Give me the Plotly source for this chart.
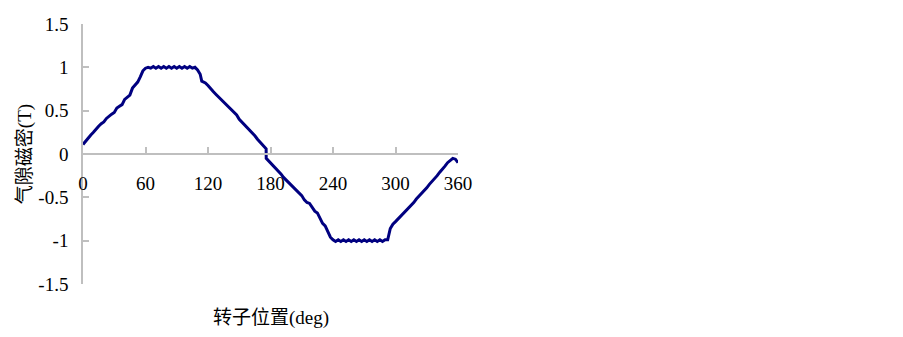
import plotly.graph_objects as go

angle_deg = [
    0, 2.5, 5, 7.5, 10, 12.5, 15, 17.5, 20, 22.5, 25, 27.5, 30, 32.5, 35, 37.5, 40, 42.5, 45, 47.5,
    50, 52.5, 55, 57.5, 60, 62.5, 65, 67.5, 70, 72.5, 75, 77.5, 80, 82.5, 85, 87.5, 90, 92.5, 95, 97.5,
    100, 102.5, 105, 107.5, 110, 112.5, 114, 117.5, 120, 122.5, 125, 127.5, 130, 132.5, 135, 137.5,
    140, 142.5, 145, 147.5, 150, 152.5, 155, 157.5, 160, 162.5, 165, 167.5, 170, 172.5, 175, 175.8,
    175.9, 177.5, 180, 182.5, 185, 187.5, 190, 192.5, 195, 197.5, 200, 202.5, 205, 207.5, 210, 212.5,
    215, 217.5, 220, 222.5, 225, 227.5, 230, 232.5, 235, 237.5, 240, 242.5, 245, 247.5, 250, 252.5,
    255, 257.5, 260, 262.5, 265, 267.5, 270, 272.5, 275, 277.5, 280, 282.5, 285, 287.5, 290, 292.5,
    295, 296.5, 297.5, 300, 302.5, 305, 307.5, 310, 312.5, 315, 317.5, 320, 322.5, 325, 327.5, 330,
    332.5, 335, 337.5, 340, 342.5, 345, 347.5, 350, 352.5, 355, 357.5, 360,
]
flux_density_T = [
    0.11, 0.15, 0.19, 0.22, 0.25, 0.29, 0.32, 0.35, 0.37, 0.41, 0.44, 0.46, 0.48, 0.53, 0.55, 0.57, 0.63, 0.66, 0.68, 0.76,
    0.79, 0.83, 0.89, 0.96, 0.99, 1.00, 0.99, 1.01, 0.99, 1.01, 0.99, 1.01, 0.99, 1.01, 0.99, 1.01, 0.99, 1.01, 0.99, 1.01,
    0.99, 1.01, 0.99, 1.00, 0.97, 0.92, 0.84, 0.82, 0.79, 0.75, 0.72, 0.69, 0.66, 0.63, 0.60, 0.57,
    0.53, 0.50, 0.47, 0.45, 0.40, 0.37, 0.34, 0.31, 0.27, 0.24, 0.21, 0.17, 0.14, 0.11, 0.08, 0.06,
    -0.05, -0.07, -0.10, -0.14, -0.17, -0.20, -0.23, -0.27, -0.30, -0.33, -0.37, -0.40, -0.43, -0.46, -0.48, -0.53,
    -0.56, -0.57, -0.62, -0.66, -0.68, -0.75, -0.80, -0.83, -0.90, -0.96, -0.99, -1.01, -0.99, -1.01, -0.99, -1.01,
    -0.99, -1.01, -0.99, -1.01, -0.99, -1.01, -0.99, -1.01, -0.99, -1.01, -0.99, -1.01, -0.99, -1.01, -0.99, -0.99,
    -0.86, -0.82, -0.81, -0.78, -0.75, -0.72, -0.69, -0.66, -0.63, -0.59, -0.56, -0.52, -0.49, -0.45, -0.42, -0.39,
    -0.35, -0.32, -0.28, -0.25, -0.21, -0.18, -0.14, -0.10, -0.07, -0.05, -0.06, -0.10,
]
x_ticks = [0, 60, 120, 180, 240, 300, 360]
y_ticks = [-1.5, -1, -0.5, 0, 0.5, 1, 1.5]
y_tick_labels = ["-1.5", "-1", "-0.5", "0", "0.5", "1", "1.5"]
x_title = "转子位置(deg)"
y_title = "气隙磁密(T)"

FONT = "Liberation Serif, Times New Roman, Noto Sans CJK SC, serif"
AXIS_GREY = "#bfbfbf"

fig = go.Figure()
fig.add_trace(go.Scatter(
    x=angle_deg, y=flux_density_T, mode="lines",
    line=dict(color="#000080", width=3),
    showlegend=False, hoverinfo="skip",
))

# the page body has an 8px default margin, so the figure is sized 8px smaller
fig.update_layout(
    width=895, height=329,
    margin=dict(l=75, r=445, t=16, b=53),
    paper_bgcolor="white", plot_bgcolor="white",
    font=dict(family=FONT, size=19, color="black"),
    xaxis=dict(
        range=[0, 360], tickvals=x_ticks, ticktext=[str(v) for v in x_ticks],
        anchor="free", position=0.5, automargin=False,
        showline=True, linecolor=AXIS_GREY, linewidth=1.5,
        ticks="inside", ticklen=6, tickcolor=AXIS_GREY, tickwidth=1.5,
        showgrid=False, zeroline=False, ticklabelstandoff=12,
        tickfont=dict(family=FONT, size=19),
    ),
    yaxis=dict(
        range=[-1.5, 1.5], tickvals=y_ticks, ticktext=y_tick_labels,
        automargin=False,
        showline=True, linecolor=AXIS_GREY, linewidth=1.5,
        ticks="inside", ticklen=6, tickcolor=AXIS_GREY, tickwidth=1.5,
        showgrid=False, zeroline=False, ticklabelstandoff=9,
        tickfont=dict(family=FONT, size=19),
        title=dict(text=y_title, font=dict(family=FONT, size=19), standoff=2),
    ),
    annotations=[dict(
        text=x_title, xref="paper", yref="paper", x=0.5, y=0, yshift=-34,
        xanchor="center", yanchor="middle", showarrow=False,
        font=dict(family=FONT, size=19),
    )],
)

fig.write_html("out.html")
